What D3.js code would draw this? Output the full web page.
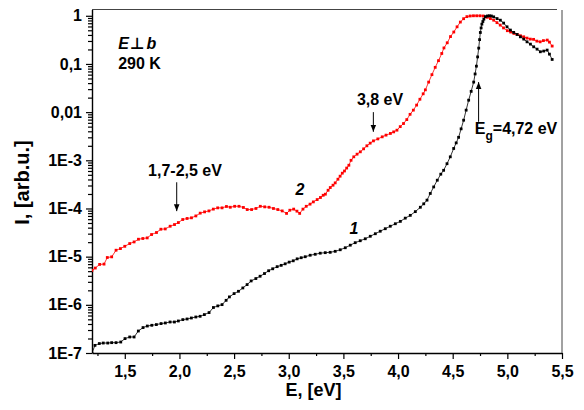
<!DOCTYPE html>
<html>
<head>
<meta charset="utf-8">
<script src="https://cdn.jsdelivr.net/npm/d3@7"></script>
<style>
    body { margin: 0; background: #fff; }
    text { font-family: "Liberation Sans", Arial, sans-serif; font-weight: bold; fill: #000; }
</style>
</head>
<body>
<div id="chart"></div>
<script>
// curve 1 (black), E in eV and intensity in arb. units
var energy1 = [1.20, 1.227, 1.267, 1.303, 1.344, 1.38, 1.42, 1.463, 1.502, 1.545, 1.585, 1.624, 1.667, 1.706, 1.747,
    1.789, 1.832, 1.871, 1.914, 1.954, 1.99, 2.031, 2.07, 2.109, 2.15, 2.189, 2.228, 2.271, 2.311, 2.351, 2.39,
    2.427, 2.457, 2.50, 2.54, 2.58, 2.619, 2.656, 2.699, 2.738, 2.778, 2.816, 2.853, 2.894, 2.931, 2.967, 3.004,
    3.041, 3.077, 3.114, 3.151, 3.196, 3.242, 3.288, 3.334, 3.379, 3.425, 3.471, 3.517, 3.563, 3.608, 3.654, 3.70,
    3.746, 3.792, 3.837, 3.883, 3.929, 3.975, 4.021, 4.066, 4.112, 4.158, 4.204, 4.235, 4.265, 4.295, 4.326, 4.359,
    4.391, 4.417, 4.448, 4.478, 4.509, 4.532, 4.554, 4.577, 4.60, 4.623, 4.646, 4.669, 4.692, 4.705, 4.717, 4.728,
    4.738, 4.746, 4.753, 4.76, 4.767, 4.776, 4.785, 4.799, 4.817, 4.835, 4.854, 4.875, 4.906, 4.936, 4.966, 4.997,
    5.028, 5.058, 5.089, 5.119, 5.15, 5.18, 5.211, 5.241, 5.272, 5.302, 5.333, 5.364, 5.385, 5.41];
var intensity1 = [1.0e-7, 1.44e-7, 1.57e-7, 1.61e-7, 1.61e-7, 1.64e-7, 1.64e-7, 1.69e-7, 1.99e-7, 2.15e-7, 2.15e-7,
    2.86e-7, 3.37e-7, 3.63e-7, 3.76e-7, 3.89e-7, 4.08e-7, 4.2e-7, 4.4e-7, 4.4e-7, 4.62e-7, 4.93e-7, 5.08e-7, 5.33e-7,
    5.59e-7, 5.78e-7, 6.27e-7, 6.9e-7, 8.8e-7, 9.5e-7, 1.01e-6, 1.24e-6, 1.46e-6, 1.71e-6, 1.91e-6, 2.24e-6, 2.63e-6,
    3.13e-6, 3.51e-6, 3.92e-6, 4.46e-6, 5.1e-6, 5.6e-6, 6.2e-6, 6.6e-6, 7.1e-6, 7.7e-6, 8.2e-6, 9.0e-6, 9.5e-6,
    9.96e-6, 1.07e-5, 1.12e-5, 1.18e-5, 1.21e-5, 1.23e-5, 1.29e-5, 1.39e-5, 1.53e-5, 1.73e-5, 1.95e-5, 2.14e-5,
    2.35e-5, 2.65e-5, 2.99e-5, 3.37e-5, 3.8e-5, 4.28e-5, 4.82e-5, 5.4e-5, 6.3e-5, 7.2e-5, 8.6e-5, 1.06e-4, 1.25e-4,
    1.49e-4, 2.05e-4, 2.8e-4, 3.86e-4, 5.15e-4, 6.2e-4, 8.5e-4, 1.18e-3, 1.76e-3, 2.3e-3, 3.0e-3, 4.5e-3, 6.8e-3,
    1.1e-2, 1.77e-2, 2.7e-2, 4.2e-2, 6.2e-2, 9.0e-2, 0.14, 0.213, 0.32, 0.45, 0.56, 0.67, 0.76, 0.85, 0.96, 0.99,
    1.0, 0.99, 0.95, 0.875, 0.81, 0.705, 0.59, 0.505, 0.452, 0.41, 0.366, 0.328, 0.288, 0.258, 0.227, 0.203, 0.179,
    0.185, 0.194, 0.16, 0.124];

// curve 2 (red)
var energy2 = [1.20, 1.23, 1.27, 1.31, 1.34, 1.38, 1.42, 1.46, 1.50, 1.545, 1.585, 1.625, 1.665, 1.705, 1.745, 1.79,
    1.83, 1.87, 1.915, 1.955, 1.99, 2.03, 2.07, 2.11, 2.15, 2.19, 2.23, 2.27, 2.31, 2.35, 2.39, 2.43, 2.465, 2.505,
    2.545, 2.585, 2.62, 2.66, 2.70, 2.74, 2.78, 2.82, 2.86, 2.90, 2.94, 2.98, 3.01, 3.045, 3.075, 3.10, 3.13, 3.16,
    3.195, 3.225, 3.26, 3.29, 3.315, 3.335, 3.36, 3.38, 3.405, 3.425, 3.45, 3.47, 3.49, 3.51, 3.53, 3.55, 3.57,
    3.595, 3.625, 3.655, 3.685, 3.715, 3.745, 3.775, 3.815, 3.855, 3.89, 3.93, 3.96, 3.99, 4.02, 4.05, 4.08, 4.11,
    4.14, 4.17, 4.20, 4.23, 4.25, 4.28, 4.31, 4.34, 4.37, 4.40, 4.42, 4.45, 4.48, 4.51, 4.54, 4.57, 4.60, 4.63,
    4.66, 4.69, 4.72, 4.75, 4.78, 4.815, 4.845, 4.875, 4.905, 4.935, 4.965, 5.00, 5.03, 5.06, 5.09, 5.12, 5.15,
    5.18, 5.21, 5.24, 5.27, 5.30, 5.33, 5.365, 5.385, 5.41];
var intensity2 = [5.2e-6, 5.8e-6, 6.9e-6, 7.0e-6, 9.6e-6, 9.9e-6, 1.36e-5, 1.47e-5, 1.64e-5, 1.87e-5, 2.02e-5,
    2.3e-5, 2.38e-5, 2.45e-5, 2.88e-5, 3.17e-5, 3.71e-5, 3.76e-5, 4.28e-5, 4.64e-5, 5.1e-5, 5.9e-5, 6.2e-5, 6.4e-5,
    7.0e-5, 8.0e-5, 8.5e-5, 8.9e-5, 9.7e-5, 1.03e-4, 1.03e-4, 1.1e-4, 1.06e-4, 1.11e-4, 1.11e-4, 1.05e-4, 9.5e-5,
    9.5e-5, 1.0e-4, 1.11e-4, 1.08e-4, 1.06e-4, 1.0e-4, 9.5e-5, 8.9e-5, 7.9e-5, 9.2e-5, 9.7e-5, 8.8e-5, 7.9e-5,
    9.7e-5, 1.11e-4, 1.23e-4, 1.37e-4, 1.53e-4, 1.69e-4, 1.88e-4, 1.98e-4, 2.39e-4, 2.72e-4, 3.04e-4, 3.4e-4,
    4.05e-4, 4.68e-4, 5.4e-4, 6.0e-4, 6.9e-4, 7.9e-4, 1.0e-3, 1.18e-3, 1.34e-3, 1.5e-3, 1.73e-3, 2.0e-3, 2.27e-3,
    2.53e-3, 2.78e-3, 3.07e-3, 3.33e-3, 3.61e-3, 3.89e-3, 4.22e-3, 5.0e-3, 5.8e-3, 7.0e-3, 9.0e-3, 1.1e-2, 1.4e-2,
    1.85e-2, 2.4e-2, 2.9e-2, 4.2e-2, 6.0e-2, 8.5e-2, 0.117, 0.165, 0.215, 0.275, 0.37, 0.46, 0.59, 0.74, 0.87, 0.96,
    0.99, 1.0, 1.0, 1.0, 0.99, 0.93, 0.875, 0.81, 0.72, 0.64, 0.56, 0.49, 0.46, 0.43, 0.41, 0.385, 0.366, 0.344,
    0.328, 0.324, 0.298, 0.288, 0.305, 0.313, 0.284, 0.235];

var xTicks = [1.5, 2.0, 2.5, 3.0, 3.5, 4.0, 4.5, 5.0, 5.5];
var xTickLabels = ["1,5", "2,0", "2,5", "3,0", "3,5", "4,0", "4,5", "5,0", "5,5"];
var yTicks = [1e-7, 1e-6, 1e-5, 1e-4, 1e-3, 1e-2, 1e-1, 1];
var yTickLabels = ["1E-7", "1E-6", "1E-5", "1E-4", "1E-3", "0,01", "0,1", "1"];

// arrows: energy, start and end intensity
var arrows = [
    {e: 1.975, from: 3.5e-4, to: 8.8e-5},
    {e: 3.774, from: 1.0e-2, to: 3.9e-3},
    {e: 4.737, from: 6.3e-3, to: 4.2e-2}
];

// svg size and margins
var width = 584, height = 410;
var margin = {top: 9.5, right: 22, bottom: 57, left: 92};
var innerW = width - margin.left - margin.right;
var innerH = height - margin.top - margin.bottom;

var svg = d3.select("#chart")
    .append("svg")
    .attr("width", width)
    .attr("height", height);

var g = svg.append("g")
    .attr("transform", "translate(" + margin.left + "," + margin.top + ")");

var x = d3.scaleLinear().domain([1.2, 5.5]).range([0, innerW]);
var y = d3.scaleLog().domain([1e-7, 1.35]).range([innerH, 0]);

svg.append("defs").append("clipPath").attr("id", "clip")
    .append("rect").attr("width", innerW).attr("height", innerH);

svg.select("defs").append("marker")
    .attr("id", "head")
    .attr("viewBox", "0 0 10 10")
    .attr("refX", 10).attr("refY", 5)
    .attr("markerWidth", 7).attr("markerHeight", 7)
    .attr("markerUnits", "userSpaceOnUse")
    .attr("orient", "auto")
    .append("path").attr("d", "M0,1L10,5L0,9Z").attr("fill", "#000");

// minor ticks
var xMinor = d3.range(1.25, 5.5, 0.5);
var yMinor = [];
for (var p = -7; p < 0; p++) {
    for (var k = 2; k <= 9; k++) yMinor.push(k * Math.pow(10, p));
}

g.append("g")
    .attr("transform", "translate(0," + innerH + ")")
    .call(d3.axisBottom(x).tickValues(xMinor).tickSize(3).tickFormat(""))
    .call(function (a) { a.select(".domain").remove(); });

g.append("g")
    .call(d3.axisLeft(y).tickValues(yMinor).tickSize(4).tickFormat(""))
    .call(function (a) { a.select(".domain").remove(); });

// major axes
var xAxis = g.append("g")
    .attr("transform", "translate(0," + innerH + ")")
    .call(d3.axisBottom(x).tickValues(xTicks).tickSize(6).tickSizeOuter(0).tickPadding(7)
        .tickFormat(function (d, i) { return xTickLabels[i]; }));

var yAxis = g.append("g")
    .call(d3.axisLeft(y).tickValues(yTicks).tickSize(6).tickSizeOuter(0).tickPadding(4)
        .tickFormat(function (d, i) { return yTickLabels[i]; }));

g.selectAll(".tick line").attr("stroke", "#000").attr("stroke-width", 1.2);
g.selectAll(".domain").attr("stroke", "#000").attr("stroke-width", 1.4);
g.selectAll(".tick text").style("font-size", "16px").attr("fill", "#000");

// frame top and right
g.append("line").attr("x1", 0).attr("x2", innerW - 5).attr("y1", 0).attr("y2", 0)
    .attr("stroke", "#444").attr("stroke-width", 1);
g.append("line").attr("x1", innerW).attr("x2", innerW).attr("y1", 0.5).attr("y2", innerH)
    .attr("stroke", "#444").attr("stroke-width", 1);

// curves
function drawCurve(energy, intensity, color) {
    var pts = energy.map(function (e, i) { return [e, intensity[i]]; });
    var layer = g.append("g").attr("clip-path", "url(#clip)");
    layer.append("path")
        .datum(pts)
        .attr("fill", "none")
        .attr("stroke", color)
        .attr("stroke-width", 0.8)
        .attr("d", d3.line().x(function (d) { return x(d[0]); }).y(function (d) { return y(d[1]); }));
    layer.selectAll("rect")
        .data(pts)
        .enter()
        .append("rect")
        .attr("x", function (d) { return x(d[0]) - 1.4; })
        .attr("y", function (d) { return y(d[1]) - 1.4; })
        .attr("width", 2.8)
        .attr("height", 2.8)
        .attr("fill", color);
}
drawCurve(energy2, intensity2, "#ff0000");
drawCurve(energy1, intensity1, "#000000");

// arrows
g.selectAll("line.arrow")
    .data(arrows)
    .enter()
    .append("line")
    .attr("class", "arrow")
    .attr("x1", function (d) { return x(d.e); })
    .attr("x2", function (d) { return x(d.e); })
    .attr("y1", function (d) { return y(d.from); })
    .attr("y2", function (d) { return y(d.to); })
    .attr("stroke", "#000")
    .attr("stroke-width", 1)
    .attr("marker-end", "url(#head)");

// annotations
var t1 = g.append("text").attr("x", x(1.44)).attr("y", y(0.2)).style("font-size", "16px");
t1.append("tspan").style("font-style", "italic").text("E");
t1.append("tspan").attr("dx", 1).style("font-family", "'DejaVu Sans'").style("font-weight", "bold").text("\u22A5");
t1.append("tspan").attr("dx", 2).style("font-style", "italic").text("b");

g.append("text").attr("x", x(1.44)).attr("y", y(0.077)).style("font-size", "16px").text("290 K");

g.append("text").attr("x", x(2.051)).attr("y", y(4.7e-4)).attr("text-anchor", "middle")
    .style("font-size", "16px").text("1,7-2,5 eV");

g.append("text").attr("x", x(3.835)).attr("y", y(1.4e-2)).attr("text-anchor", "middle")
    .style("font-size", "16px").text("3,8 eV");

var eg = g.append("text").attr("x", x(4.702)).attr("y", y(3.5e-3)).style("font-size", "16px");
eg.append("tspan").text("E");
eg.append("tspan").attr("dy", 6).style("font-size", "12px").text("g");
eg.append("tspan").attr("dy", -6).text("=4,72 eV");

g.append("text").attr("x", x(3.103)).attr("y", y(1.95e-4)).attr("text-anchor", "middle")
    .style("font-size", "16px").style("font-style", "italic").text("2");
g.append("text").attr("x", x(3.597)).attr("y", y(3.0e-5)).attr("text-anchor", "middle")
    .style("font-size", "16px").style("font-style", "italic").text("1");

// axis titles
svg.append("text")
    .attr("x", 313.5).attr("y", 395.5)
    .attr("text-anchor", "middle")
    .style("font-size", "18px")
    .text("E, [eV]");

svg.append("text")
    .attr("transform", "translate(29,182.5) rotate(-90)")
    .attr("text-anchor", "middle")
    .style("font-size", "20px")
    .text("I, [arb.u.]");
</script>
</body>
</html>
